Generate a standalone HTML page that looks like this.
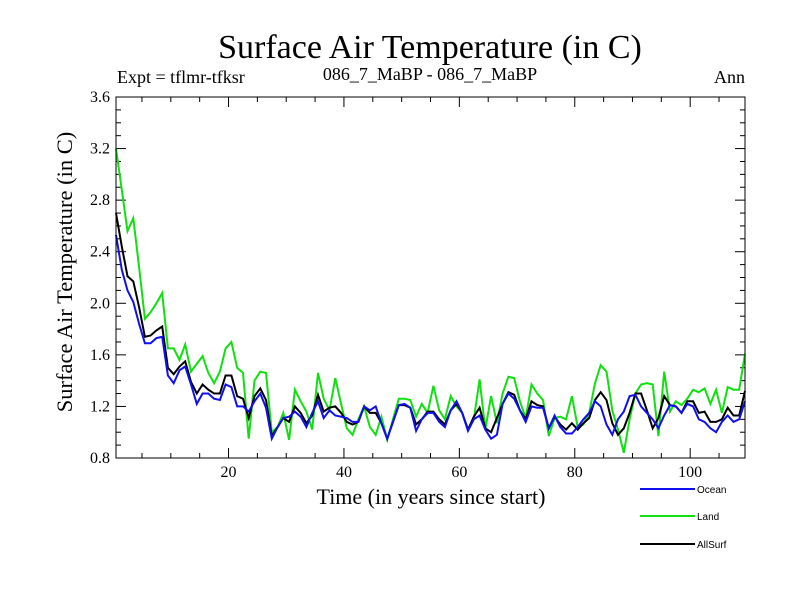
<!DOCTYPE html>
<html><head><meta charset="utf-8"><style>
body{margin:0;background:#fff;}
svg text{font-family:"Liberation Serif",serif;}
</style></head><body>
<svg id="chart" width="800" height="600" xmlns="http://www.w3.org/2000/svg">
<rect width="800" height="600" fill="#fff"/>
<text x="430" y="58" font-size="34" text-anchor="middle">Surface Air Temperature (in C)</text>
<text x="117" y="83" font-size="18">Expt = tflmr-tfksr</text>
<text x="430" y="80" font-size="18" text-anchor="middle">086_7_MaBP - 086_7_MaBP</text>
<text x="745" y="83" font-size="18" text-anchor="end">Ann</text>
<text transform="translate(72,272) rotate(-90)" font-size="22.5" text-anchor="middle">Surface Air Temperature (in C)</text>
<text x="431" y="504" font-size="22" text-anchor="middle">Time (in years since start)</text>
<g id="axes"></g>
<g id="series"></g>
<g id="legend"></g>
<rect x="116" y="97" width="629" height="361" fill="none" stroke="#000" stroke-width="1"/>
</svg>
<script>
const seriesNames = ["Ocean","Land","AllSurf"];
const seriesColors = ["#1010ee","#10e010","#000000"];
const yTicks = [0.8,1.2,1.6,2.0,2.4,2.8,3.2,3.6];
const yTickLabels = ["0.8","1.2","1.6","2.0","2.4","2.8","3.2","3.6"];
const xTicks = [20,40,60,80,100];
const xTickLabels = ["20","40","60","80","100"];
const land = [3.20,2.88,2.56,2.66,2.28,1.88,1.93,2.00,2.08,1.65,1.65,1.56,1.68,1.47,1.53,1.59,1.46,1.38,1.47,1.65,1.70,1.50,1.46,0.95,1.40,1.47,1.46,1.00,
1.04,1.15,0.94,1.33,1.24,1.16,1.02,1.46,1.26,1.17,1.42,1.22,1.03,0.98,1.10,1.20,1.04,0.98,1.12,0.94,1.10,1.26,
1.26,1.25,1.12,1.22,1.15,1.36,1.17,1.10,1.28,1.20,1.15,1.02,1.10,1.41,1.02,1.28,1.07,1.30,1.43,1.42,1.24,1.11,1.37,1.30,1.25,0.97,1.11,
1.12,1.10,1.28,1.04,1.06,1.15,1.38,1.52,1.47,1.17,1.02,0.84,1.10,1.30,1.37,1.38,1.37,0.97,1.47,1.16,1.24,1.21,1.26,1.33,1.31,1.34,1.22,1.33,1.15,1.35,1.33,1.33,1.61];
const allSurf = [2.70,2.44,2.21,2.17,1.97,1.74,1.75,1.79,1.82,1.50,1.45,1.51,1.55,1.39,1.30,1.37,1.33,1.30,1.30,1.44,1.44,1.28,1.26,1.11,1.28,1.34,1.25,0.97,
1.04,1.11,1.08,1.20,1.15,1.07,1.13,1.29,1.16,1.19,1.20,1.15,1.08,1.06,1.08,1.20,1.15,1.15,1.07,0.95,1.08,1.21,
1.21,1.19,1.06,1.10,1.16,1.16,1.10,1.06,1.17,1.22,1.15,1.02,1.12,1.19,1.03,1.00,1.11,1.22,1.31,1.29,1.17,1.10,1.24,1.21,1.20,1.03,1.12,
1.06,1.02,1.07,1.02,1.07,1.11,1.25,1.31,1.25,1.07,0.98,1.03,1.15,1.30,1.30,1.17,1.03,1.11,1.28,1.21,1.20,1.15,1.24,1.24,1.15,1.16,1.08,1.08,1.10,1.19,1.13,1.13,1.32];
const ocean = [2.53,2.26,2.10,2.01,1.84,1.69,1.69,1.73,1.74,1.44,1.38,1.48,1.51,1.37,1.22,1.30,1.30,1.26,1.25,1.37,1.35,1.20,1.20,1.16,1.24,1.30,1.19,0.95,
1.04,1.11,1.12,1.16,1.12,1.04,1.15,1.24,1.11,1.17,1.13,1.12,1.11,1.08,1.08,1.20,1.17,1.20,1.07,0.95,1.08,1.21,
1.22,1.19,1.01,1.10,1.15,1.15,1.08,1.04,1.17,1.24,1.15,1.01,1.10,1.13,1.02,0.95,0.98,1.22,1.30,1.26,1.17,1.08,1.20,1.19,1.19,1.03,1.13,
1.04,0.99,0.99,1.04,1.10,1.15,1.24,1.20,1.06,0.98,1.10,1.16,1.28,1.29,1.20,1.15,1.10,1.03,1.13,1.21,1.20,1.15,1.22,1.20,1.10,1.08,1.03,1.00,1.08,1.13,1.08,1.10,1.24];

const NS="http://www.w3.org/2000/svg";
const L=116,R=745,T=97,B=458;
const xMin=0.5,xMax=109.5,yMin=0.8,yMax=3.6;
function xs(v){return L+(v-xMin)/(xMax-xMin)*(R-L);}
function ys(v){return B-(v-yMin)/(yMax-yMin)*(B-T);}
function mk(tag,attrs,parent){const e=document.createElementNS(NS,tag);for(const k in attrs)e.setAttribute(k,attrs[k]);parent.appendChild(e);return e;}
const axes=document.getElementById('axes');
for(let v=8;v<=36;v++){
  const y=ys(v/10), major=(v%4===0);
  const len=major?10:5;
  const t1=mk('line',{x1:L,x2:L+len,y1:y,y2:y,stroke:'#000'},axes);
  
  
  const t2=mk('line',{x1:R,x2:R-len,y1:y,y2:y,stroke:'#000'},axes);
  
  
}
yTicks.forEach((v,i)=>{
  const t=mk('text',{x:L-6,y:ys(v)+5,'font-size':16,'text-anchor':'end'},axes);
  t.textContent=yTickLabels[i];
  
  
});
for(let v=5;v<=105;v+=5){
  const x=xs(v), major=(v%20===0);
  const len=major?10:5;
  const t1=mk('line',{x1:x,x2:x,y1:B,y2:B-len,stroke:'#000'},axes);
  
  
  const t2=mk('line',{x1:x,x2:x,y1:T,y2:T+len,stroke:'#000'},axes);
  
  
}
xTicks.forEach((v,i)=>{
  const t=mk('text',{x:xs(v),y:B+19,'font-size':16,'text-anchor':'middle'},axes);
  t.textContent=xTickLabels[i];
  
  
});
const sg=document.getElementById('series');
const order=[1,2,0];
const datas={0:ocean,1:land,2:allSurf};
order.forEach(si=>{
  const d=datas[si];
  const pts=d.map((v,i)=>xs(xMin+i).toFixed(1)+','+ys(v).toFixed(1)).join(' ');
  const p=mk('polyline',{points:pts,fill:'none',stroke:seriesColors[si],'stroke-width':2,'stroke-linejoin':'miter'},sg);
  
  
});
const lg=document.getElementById('legend');
const ly=[489,516,544];
seriesNames.forEach((n,i)=>{
  const l=mk('line',{x1:640,x2:695,y1:ly[i],y2:ly[i],stroke:seriesColors[i],'stroke-width':2},lg);
  
  
  const t=mk('text',{x:697,y:ly[i]+4,'font-size':10,style:'font-family:"Liberation Sans",sans-serif'},lg);
  t.textContent=n;
  
  
});
</script>
</body></html>
